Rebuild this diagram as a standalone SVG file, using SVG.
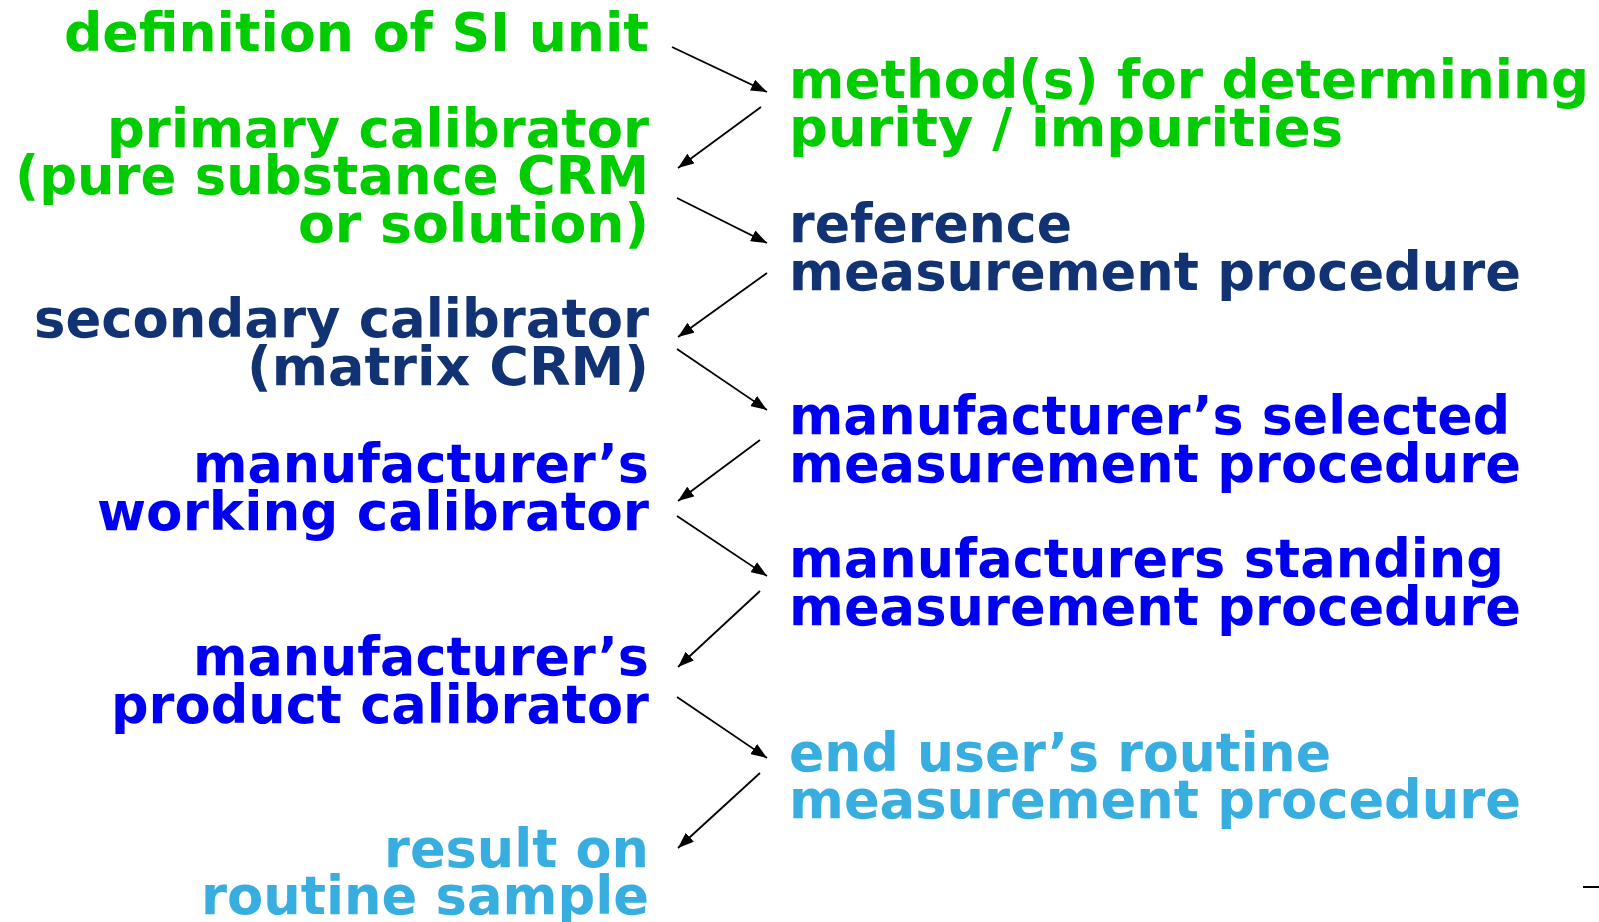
<svg xmlns="http://www.w3.org/2000/svg" width="1599" height="922" viewBox="0 0 1599 922">
<defs>
<marker id="ah" viewBox="0 0 16 12" refX="16" refY="6" markerWidth="16" markerHeight="12" markerUnits="userSpaceOnUse" orient="auto">
<path d="M0,0 L16,6 L0,12 z" fill="#000"/>
</marker>
<style>
text{font-family:"DejaVu Sans","Verdana",sans-serif;font-weight:bold;font-size:53.5px}
.l{text-anchor:end}
.g{fill:#00CC00}
.n{fill:#123373}
.b{fill:#0000F0}
.c{fill:#38AEE0}
.a{stroke:#000;stroke-width:1.8;fill:none}
</style>
</defs>
<rect width="1599" height="922" fill="#fff"/>
<g id="si"><text class="l g" x="649" y="51" textLength="585" lengthAdjust="spacingAndGlyphs">definition of SI unit</text></g>
<g id="primary"><text class="l g" x="649" y="147" textLength="542" lengthAdjust="spacingAndGlyphs">primary calibrator</text><text class="l g" x="649" y="194" textLength="634" lengthAdjust="spacingAndGlyphs">(pure substance CRM</text><text class="l g" x="649" y="242" textLength="351" lengthAdjust="spacingAndGlyphs">or solution)</text></g>
<g id="purity"><text class="g" x="789" y="98" textLength="800" lengthAdjust="spacingAndGlyphs">method(s) for determining</text><text class="g" x="789" y="146" textLength="554" lengthAdjust="spacingAndGlyphs">purity / impurities</text></g>
<g id="refproc"><text class="n" x="789" y="242" textLength="283" lengthAdjust="spacingAndGlyphs">reference</text><text class="n" x="789" y="290" textLength="732" lengthAdjust="spacingAndGlyphs">measurement procedure</text></g>
<g id="secondary"><text class="l n" x="649" y="337" textLength="615" lengthAdjust="spacingAndGlyphs">secondary calibrator</text><text class="l n" x="649" y="385" textLength="402" lengthAdjust="spacingAndGlyphs">(matrix CRM)</text></g>
<g id="selected"><text class="b" x="789" y="434" textLength="721" lengthAdjust="spacingAndGlyphs">manufacturer’s selected</text><text class="b" x="789" y="482" textLength="732" lengthAdjust="spacingAndGlyphs">measurement procedure</text></g>
<g id="working"><text class="l b" x="649" y="482" textLength="456" lengthAdjust="spacingAndGlyphs">manufacturer’s</text><text class="l b" x="649" y="530" textLength="552" lengthAdjust="spacingAndGlyphs">working calibrator</text></g>
<g id="standing"><text class="b" x="789" y="577" textLength="715" lengthAdjust="spacingAndGlyphs">manufacturers standing</text><text class="b" x="789" y="625" textLength="732" lengthAdjust="spacingAndGlyphs">measurement procedure</text></g>
<g id="product"><text class="l b" x="649" y="675" textLength="456" lengthAdjust="spacingAndGlyphs">manufacturer’s</text><text class="l b" x="649" y="723" textLength="538" lengthAdjust="spacingAndGlyphs">product calibrator</text></g>
<g id="routine"><text class="c" x="789" y="771" textLength="542" lengthAdjust="spacingAndGlyphs">end user’s routine</text><text class="c" x="789" y="818" textLength="732" lengthAdjust="spacingAndGlyphs">measurement procedure</text></g>
<g id="result"><text class="l c" x="649" y="867" textLength="265" lengthAdjust="spacingAndGlyphs">result on</text><text class="l c" x="649" y="914" textLength="448" lengthAdjust="spacingAndGlyphs">routine sample</text></g>
<g id="connectors">
<line class="a" x1="672" y1="47" x2="767" y2="92" marker-end="url(#ah)"/>
<line class="a" x1="761" y1="107" x2="678" y2="168" marker-end="url(#ah)"/>
<line class="a" x1="677" y1="198" x2="767" y2="243" marker-end="url(#ah)"/>
<line class="a" x1="767" y1="273" x2="678" y2="337" marker-end="url(#ah)"/>
<line class="a" x1="677" y1="349" x2="767" y2="410" marker-end="url(#ah)"/>
<line class="a" x1="760" y1="440" x2="678" y2="501" marker-end="url(#ah)"/>
<line class="a" x1="677" y1="516" x2="767" y2="576" marker-end="url(#ah)"/>
<line class="a" x1="760" y1="591" x2="678" y2="667" marker-end="url(#ah)"/>
<line class="a" x1="677" y1="697" x2="767" y2="758" marker-end="url(#ah)"/>
<line class="a" x1="760" y1="773" x2="678" y2="848" marker-end="url(#ah)"/>
</g>
<line x1="1583" y1="887" x2="1599" y2="887" stroke="#000" stroke-width="2"/>
</svg>
